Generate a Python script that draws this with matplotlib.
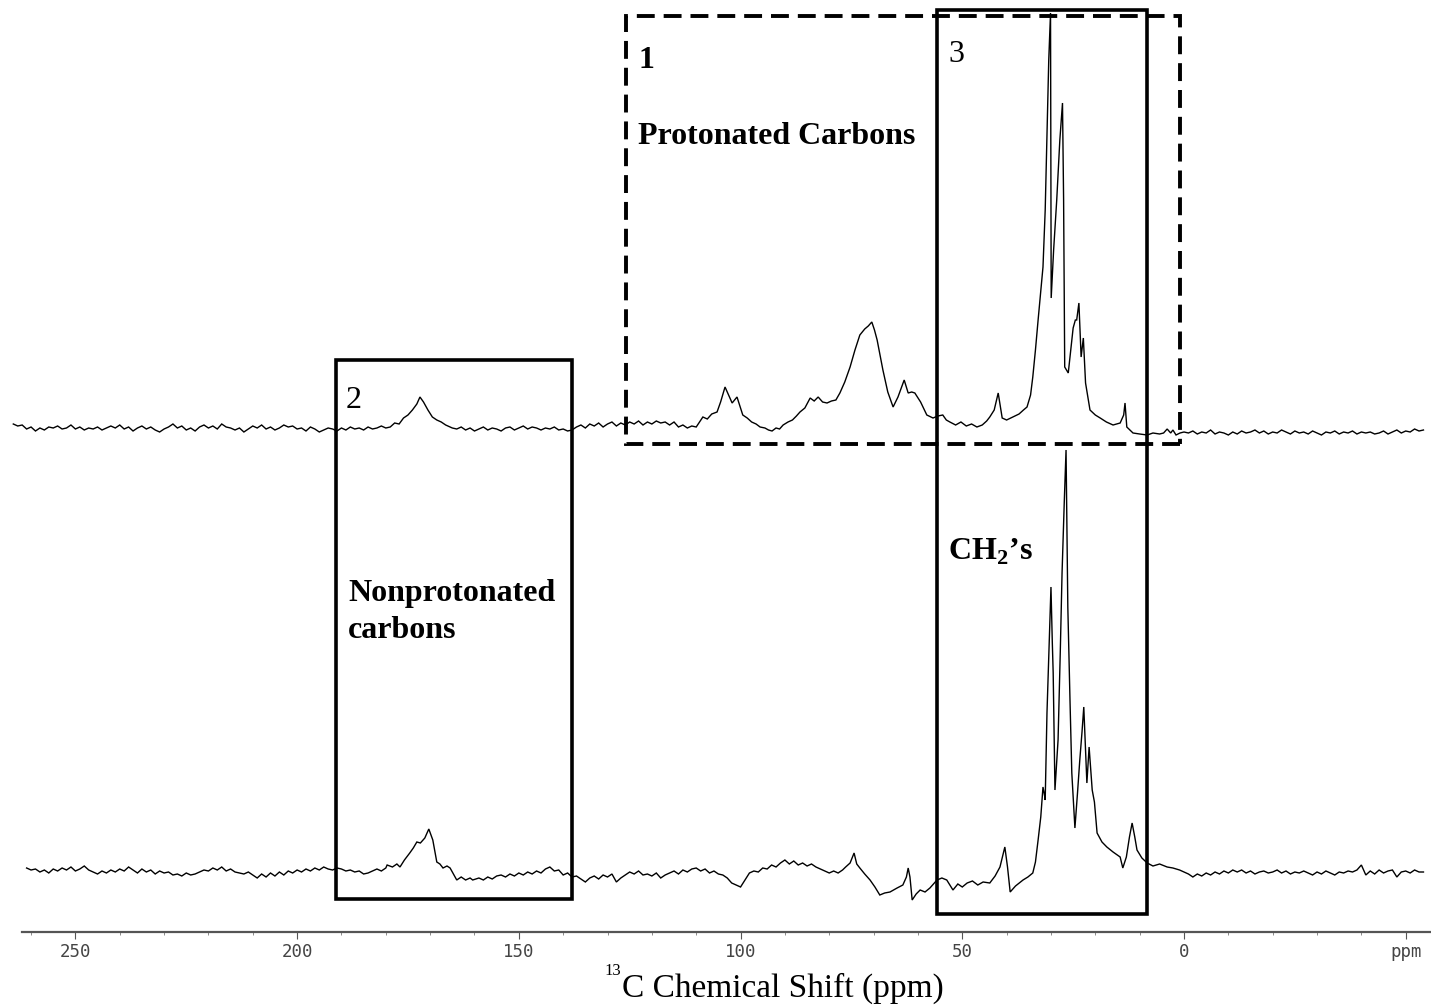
import numpy as np
import matplotlib
matplotlib.use("Agg")
import matplotlib.pyplot as plt
from matplotlib.patches import Rectangle

plt.rcParams["mathtext.fontset"] = "custom"
plt.rcParams["mathtext.rm"] = "Liberation Serif"
plt.rcParams["mathtext.bf"] = "Liberation Serif:bold"

# ---------------- spectra (ppm, intensity) ----------------
# upper spectrum: baseline segments sampled every 1 ppm, peak regions listed point by point
upper_base1_ppm = np.arange(264, 179, -1)
upper_base1_int = [6, 4, 5, 1, 3, -1, 2, 0, 3, 2,
                   4, 1, 2, 5, 1, 3, 0, 2, 1, 3,
                   0, 2, 4, 2, 5, 1, 3, -1, 2, 4,
                   1, 3, 0, -2, 1, 3, 6, 2, 4, 0,
                   2, -1, 3, 5, 2, 4, 1, 6, 3, 2,
                   0, 2, -2, 1, 4, 2, 5, 1, 3, 0,
                   2, 5, 3, 4, 1, 2, -1, 3, 1, -2,
                   0, 2, 1, -1, 2, 0, 3, 1, 2, 0,
                   3, 1, 2, 4, 2]
upper_carbonyl_ppm = [179, 178, 177, 176, 175, 174, 173, 172.3, 171.5, 170.5,
                      169.5, 168.5, 167.5, 166.5, 165.5]
upper_carbonyl_int = [3, 7, 6, 12, 15, 20, 26, 33, 28, 20,
                      13, 10, 8, 5, 3]
upper_base2_ppm = np.arange(165, 109, -1)
upper_base2_int = [2, 1, 3, 0, 2, -1, 1, 3, 0, 2,
                   1, -1, 2, 3, 0, 2, 4, 1, 3, 2,
                   0, 2, 1, 3, 0, 1, -1, 0, 3, 5,
                   2, 6, 4, 7, 3, 6, 8, 4, 7, 5,
                   8, 6, 9, 5, 8, 6, 9, 7, 8, 5,
                   8, 3, 5, 2, 4, 3]
upper_aliph_ppm = [108.5, 107.5, 106.5, 105.3, 104.5, 103.5, 102.7, 101.9, 100.8, 99.5,
                   98.5, 97.5, 96.5, 95.6, 94.5, 93.7, 92.9, 92.0, 91.2, 90.4,
                   89.3, 88.3, 87.4, 86.6, 85.5, 84.3, 83.4, 82.5, 81.5, 80.5,
                   79.5, 78.5, 77.6, 76.5, 75.3, 74.2, 73.1, 72.0, 71.2, 70.4,
                   69.8, 69.2, 67.9, 66.8, 65.6, 64.5, 63.1, 62.2, 61.4, 60.7,
                   59.4, 58.0, 56.6, 55.5, 54.4, 53.6, 52.8, 51.5, 50.3, 49.1,
                   47.9, 46.7, 45.5, 44.5, 43.8, 42.8, 41.9, 41.0, 40.0, 38.6,
                   37.2, 36.2, 35.4, 34.6, 34.1, 33.5, 32.9, 31.8, 31.3, 30.9,
                   30.5, 30.1, 29.95, 29.4, 28.7, 28.0, 27.4, 27.15, 26.9, 26.1,
                   25.0, 24.5, 24.2, 23.7, 23.2, 22.7, 22.2, 21.2, 20.0, 18.9,
                   17.5, 16.0, 14.4, 13.6, 13.3, 12.9, 12.2, 11.5, 10.0, 8.3,
                   7.0, 5.5, 4.6, 3.8, 3.0, 2.5, 1.8, 0.9, 0.0]
upper_aliph_int = [13, 11, 16, 18, 28, 43, 35, 27, 33, 15,
                   12, 8, 6, 3, 2, 0, -1, 2, 1, 5,
                   8, 10, 14, 18, 22, 32, 29, 33, 28, 27,
                   29, 30, 37, 48, 63, 80, 95, 101, 104, 108,
                   100, 90, 60, 38, 23, 33, 50, 37, 38, 37,
                   28, 15, 12, 14, 15, 10, 8, 5, 8, 4,
                   6, 3, 5, 9, 13, 20, 37, 12, 10, 13,
                   16, 20, 23, 35, 53, 80, 110, 163, 220, 297,
                   370, 417, 132, 180, 230, 290, 327, 230, 63, 57,
                   102, 110, 110, 127, 73, 92, 47, 20, 15, 12,
                   8, 5, 7, 15, 27, 3, 0, -3, -4, -5,
                   -3, -4, -3, 1, -3, 0, -5, -3, -2]
upper_base3_ppm = np.arange(-1, -55, -1)
upper_base3_int = [-3, -1, -4, -2, -3, 0, -4, -2, -3, -5,
                   -2, -4, -1, -3, -2, 0, -3, -1, -4, -2,
                   -3, 0, -2, -4, -1, -3, -2, -4, -1, -3,
                   -5, -2, -3, -1, -4, -2, -3, -1, -4, -2,
                   -3, -2, -4, -3, -1, -4, -2, 0, -3, -1,
                   -2, 1, -1, 0]

# lower spectrum
lower_base1_ppm = np.arange(261, 179, -1)
lower_base1_int = [4, 2, 3, 0, 2, -1, 3, 1, 4, 2,
                   5, 1, 3, 6, 2, 0, -2, 1, -1, 2,
                   0, 3, 1, 5, 2, -1, 3, 0, 2, -2,
                   1, -1, 0, -3, -2, -4, -1, -3, -2, 0,
                   2, 1, 4, 2, 5, 1, 3, 0, -1, -2,
                   0, -3, -6, -2, -5, -1, -4, 0, -3, 1,
                   -1, 2, 0, 3, 1, 4, 2, 5, 3, 2,
                   4, 3, 1, 2, 0, 1, -2, -1, 1, 3,
                   1, 4]
lower_carbonyl_ppm = [179.7, 178.5, 177.5, 176.8, 175.8, 174.6, 173.8, 173.0, 172.2, 171.2,
                      170.3, 169.4, 168.5, 167.8, 167.1, 166.2, 165.5, 164.0, 163.0, 162.0,
                      161.0, 160.4]
lower_carbonyl_int = [7, 5, 8, 5, 12, 19, 24, 30, 29, 34,
                      43, 32, 10, 8, 4, 6, 4, -8, -5, -8,
                      -6, -8]
lower_base2_ppm = np.arange(159, 76, -1)
lower_base2_int = [-6, -8, -5, -7, -4, -3, -5, -2, -4, -1,
                   -3, 0, -2, 1, -1, 3, 5, 1, 2, -3,
                   -1, -5, -4, -7, -10, -6, -4, -7, -3, -5,
                   -2, -10, -6, -3, 0, -2, 1, -3, -2, -4,
                   -1, -6, -3, -1, 1, -2, 2, 0, 3, 4,
                   1, 3, -1, 1, -2, -3, -6, -11, -13, -15,
                   -8, -1, 1, 0, 4, 3, 7, 5, 9, 12,
                   8, 11, 7, 9, 6, 8, 5, 3, 1, -1,
                   1, -1, 2]
lower_aliph_ppm = [76.3, 75.3, 74.4, 73.8, 73.1, 72.0, 70.8, 69.7, 68.6, 67.5,
                   66.3, 65.5, 64.7, 63.4, 62.6, 62.2, 61.8, 61.3, 60.4, 59.5,
                   58.4, 57.3, 56.5, 55.7, 54.6, 53.5, 52.1, 51.0, 50.0, 48.9,
                   47.7, 46.5, 45.3, 43.8, 42.6, 41.5, 40.4, 39.8, 39.2, 38.0,
                   36.3, 35.2, 34.1, 33.5, 32.9, 32.3, 31.8, 31.5, 31.3, 30.9,
                   30.4, 30.0, 29.7, 29.5, 29.1, 28.4, 27.9, 27.5, 27.0, 26.6,
                   26.2, 25.7, 25.3, 24.6, 24.0, 23.5, 23.0, 22.6, 21.9, 21.4,
                   20.7, 20.2, 19.6, 18.5, 17.4, 16.0, 14.4, 13.8, 13.0, 12.3,
                   11.7, 11.1, 10.6, 9.5, 8.3, 7.0, 5.5, 3.8, 2.5, 1.0,
                   0.0]
lower_aliph_int = [5, 9, 19, 8, 4, -2, -8, -15, -23, -21,
                   -20, -18, -16, -13, -5, 4, -5, -28, -22, -18,
                   -20, -16, -12, -8, -6, -8, -18, -12, -15, -11,
                   -9, -13, -10, -11, -4, 5, 25, 5, -20, -14,
                   -8, -5, -1, 10, 32, 55, 85, 78, 72, 159,
                   230, 285, 230, 199, 82, 132, 220, 299, 370, 422,
                   265, 170, 99, 44, 80, 112, 140, 165, 89, 125,
                   82, 70, 39, 30, 25, 20, 15, 4, 15, 35,
                   49, 35, 22, 14, 9, 6, 8, 5, 4, 2,
                   0]
lower_base3_ppm = np.arange(-1, -55, -1)
lower_base3_int = [-2, -5, -2, -4, -1, -3, 0, -2, 1, -1,
                   2, 0, 2, -1, 1, -2, 0, 1, -1, 0,
                   2, -1, 1, -2, 0, -1, 1, -1, -3, 0,
                   -2, 1, -1, -3, 0, -1, 1, 0, 2, 7,
                   -3, 1, -2, 2, -1, 1, 2, -5, 0, 1,
                   -1, 2, 0, 0]

upper_offset = 442
lower_offset = 0

# axis ticks
tick_ppm = [250, 200, 150, 100, 50, 0, -50]
tick_labels = ["250", "200", "150", "100", "50", "0", "ppm"]

# ---------------- figure ----------------
fig = plt.figure(figsize=(14.31, 10.08), dpi=100)
ax = fig.add_axes([0, 0, 1, 1])
ax.set_xlim(267.0, -55.7)
ax.set_ylim(-136, 872)


def join(*parts):
    xs, ys = [], []
    for x, y in parts:
        xs.extend(list(x))
        ys.extend(list(y))
    return np.array(xs, float), np.array(ys, float)


ux, uy = join((upper_base1_ppm, upper_base1_int),
              (upper_carbonyl_ppm, upper_carbonyl_int),
              (upper_base2_ppm, upper_base2_int),
              (upper_aliph_ppm, upper_aliph_int),
              (upper_base3_ppm, upper_base3_int))
lx, ly = join((lower_base1_ppm, lower_base1_int),
              (lower_carbonyl_ppm, lower_carbonyl_int),
              (lower_base2_ppm, lower_base2_int),
              (lower_aliph_ppm, lower_aliph_int),
              (lower_base3_ppm, lower_base3_int))

ax.plot(ux, uy + upper_offset, color="black", lw=1.0, solid_joinstyle="miter")
ax.plot(lx, ly + lower_offset, color="black", lw=1.0, solid_joinstyle="miter")

# region boxes
box_kw = dict(fill=False, edgecolor="black", zorder=3)
ax.add_patch(Rectangle((138.0, -27), 191.25 - 138.0, 539, lw=2.6, **box_kw))
ax.add_patch(Rectangle((8.3, -42), 55.7 - 8.3, 904, lw=2.6, **box_kw))
ax.add_patch(Rectangle((0.9, 428), 125.8 - 0.9, 428, lw=2.8,
                       linestyle=(0, (4.6, 2.3)), **box_kw))

serif = "Liberation Serif"
lab = dict(family=serif, fontsize=23, ha="left", va="center", color="black")
ax.text(123.1, 812, "1", fontweight="bold", **lab)
ax.text(123.1, 736, "Protonated Carbons", fontweight="bold", **lab)
ax.text(53.2, 818, "3", **lab)
ax.text(189.0, 471, "2", **lab)
ax.text(188.5, 279, "Nonprotonated", fontweight="bold", **lab)
ax.text(188.5, 241, "carbons", fontweight="bold", **lab)
ax.text(53.2, 320, r"CH$_{\mathbf{2}}$’s", fontweight="bold", **lab)

# bottom ppm scale
for side in ("top", "left", "right"):
    ax.spines[side].set_visible(False)
ax.spines["bottom"].set_position(("data", -60))
ax.spines["bottom"].set_bounds(262, -55.7)
ax.spines["bottom"].set_color("#555555")
ax.spines["bottom"].set_linewidth(1.6)
ax.set_yticks([])
ax.set_xticks(tick_ppm)
ax.set_xticklabels(tick_labels, family="DejaVu Sans Mono", fontsize=12.5, color="#444444")
ax.set_xticks(np.arange(260, -55, -10), minor=True)
ax.tick_params(axis="x", which="major", direction="out", length=5, width=0.8,
               color="#555555", pad=3)
ax.tick_params(axis="x", which="minor", direction="out", length=2.5, width=0.6,
               color="#777777")
ax.patch.set_alpha(0)

# axis title with a small isotope superscript
fig.text(622 / 1431, 1 - 988 / 1008, "C Chemical Shift (ppm)",
         family=serif, fontsize=24, ha="left", va="center")
fig.text(621 / 1431, 1 - 971 / 1008, "13",
         family=serif, fontsize=12, ha="right", va="center")

fig.savefig("out.png", dpi=100, facecolor="white")
